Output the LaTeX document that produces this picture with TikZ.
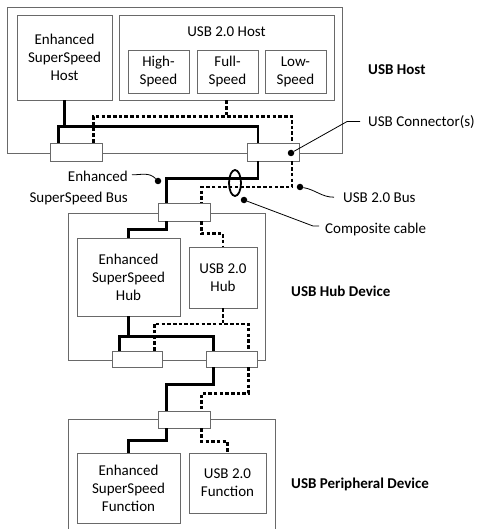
\documentclass[tikz,border=0pt]{standalone}
\usepackage{fontspec}
\setmainfont{Carlito}
\usepackage{tikz}
\usetikzlibrary{calc, positioning, shapes.geometric}
\definecolor{BoxGray}{RGB}{105, 105, 105}

\begin{document}
\begin{tikzpicture}[x=1pt, y=-1pt,
	blk/.style={draw=BoxGray, line width=0.9pt, fill=white, align=center, inner sep=0pt,
		font=\fontsize{15}{18}\selectfont},
	port/.style={draw=BoxGray, line width=0.9pt, fill=white, minimum width=52pt,
		minimum height=18pt, inner sep=0pt},
	ssbus/.style={line width=2.5pt},
	hsbus/.style={line width=2.1pt, dash pattern=on 3.5pt off 2.2pt},
	lbl/.style={font=\fontsize{15}{18}\selectfont, inner sep=0pt},
	dev/.style={font=\bfseries\fontsize{15}{18}\selectfont, inner sep=0pt, anchor=base west},
	lead/.style={line width=0.8pt},
	tip/.style={circle, fill=black, inner sep=0pt, minimum size=6.5pt}]
	\useasboundingbox (0,0) rectangle (478,529);
	\node[blk, minimum width=335pt, minimum height=146pt] (host) at (174.5,80) {};
	\node[blk, minimum width=197pt, minimum height=147pt] (hub) at (166.5,286.5) {};
	\node[blk, minimum width=207pt, minimum height=121pt] (per) at (171.5,479.5) {};
	\node[blk, minimum width=95pt, minimum height=85pt] (essh) at (64.5,57.5) {Enhanced\\SuperSpeed\\Host};
	\node[blk, minimum width=215pt, minimum height=85pt] (u2h) at (226.5,57.5) {};
	\node[lbl, anchor=base] (u2hl) at ($(u2h.north)+(0,22)$) {USB 2.0 Host};
	\node[blk, minimum width=61pt, minimum height=43pt] (hs) at (158.5,71.5) {High-\\Speed};
	\node[blk, minimum width=61pt, minimum height=43pt] (fs) at (227.5,71.5) {Full-\\Speed};
	\node[blk, minimum width=61pt, minimum height=43pt] (ls) at (295.5,71.5) {Low-\\Speed};
	\node[blk, minimum width=103pt, minimum height=78pt] (essb) at (128.5,277) {Enhanced\\SuperSpeed\\Hub};
	\node[blk, minimum width=68pt, minimum height=61pt] (u2b) at (223,277.5) {USB 2.0\\Hub};
	\node[blk, minimum width=103pt, minimum height=70pt] (essf) at (128.5,488) {Enhanced\\SuperSpeed\\Function};
	\node[blk, minimum width=77pt, minimum height=60pt] (u2f) at (227.5,483) {USB 2.0\\Function};
	\node[port] (hcL) at (76,152) {};
	\node[port] (hcR) at (273.5,152) {};
	\node[port] (hubU) at (184,212) {};
	\node[port, minimum width=50pt, minimum height=16pt] (hubL) at (137,359) {};
	\node[port, minimum width=51pt, minimum height=16pt] (hubR) at (231.5,359) {};
	\node[port, minimum height=17pt] (perC) at (184,419.5) {};
	\draw[ssbus] (essh.south) -- ++(0,27);
	\draw[ssbus] ($(hcL.north west)+(9,0)$) |- ($(hcR.north west)+(11,-16)$) -- ($(hcR.north west)+(11,0)$);
	\draw[hsbus] (u2h.south) -- ++(0,17);
	\draw[hsbus] ($(hcL.north east)+(-9,0)$) |- ($(hcR.north east)+(-8,-26)$) -- ($(hcR.north east)+(-8,0)$);
	\draw[ssbus] ($(hcR.south west)+(11,0)$) -- ++(0,17) -| ($(hubU.north west)+(9,0)$);
	\draw[hsbus] ($(hcR.south east)+(-8,0)$) -- ++(0,26) -| ($(hubU.north east)+(-9,0)$);
	\draw[ssbus] ($(hubU.south west)+(9,0)$) -- ++(0,8) -| (essb.north);
	\draw[hsbus] ($(hubU.south east)+(-9,0)$) -- ++(0,12) -| (u2b.north);
	\draw[ssbus] (essb.south) -- ++(0,21);
	\draw[ssbus] ($(hubL.north west)+(8,0)$) |- ($(hubR.north west)+(8,-14)$) -- ($(hubR.north west)+(8,0)$);
	\draw[hsbus] (u2b.south) -- ++(0,16);
	\draw[hsbus] ($(hubL.north east)+(-8,0)$) |- ($(hubR.north east)+(-9,-27)$) -- ($(hubR.north east)+(-9,0)$);
	\draw[ssbus] ($(hubR.south west)+(8,0)$) -- ++(0,17) -| ($(perC.north west)+(9,0)$);
	\draw[hsbus] ($(hubR.south east)+(-9,0)$) -- ++(0,26) -| ($(perC.north east)+(-9,0)$);
	\draw[ssbus] ($(perC.south west)+(9,0)$) -- ++(0,12) -| (essf.north);
	\draw[hsbus] ($(perC.south east)+(-9,0)$) -- ++(0,13) -| (u2f.north);
	\node[ellipse, draw, line width=1.8pt, minimum width=12pt, minimum height=26pt, inner sep=0pt] (cbl) at (235,183) {};
	\node[dev] (lhost) at (368,75) {USB Host};
	\node[dev] (lhub) at (291,296) {USB Hub Device};
	\node[dev] (lper) at (291,488) {USB Peripheral Device};
	\node[lbl, anchor=base west] (conn) at (368,127) {USB Connector(s)};
	\node[lbl, anchor=base east] (essbusA) at (128,182) {Enhanced};
	\node[lbl, anchor=base east] (essbusB) at (128,203) {SuperSpeed Bus};
	\node[lbl, anchor=base west] (bus20) at (343,203) {USB 2.0 Bus};
	\node[lbl, anchor=base west] (cmp) at (325,233) {Composite cable};
	\node[tip] (dconn) at (291,153) {};
	\node[tip] (dss) at (158,181) {};
	\node[tip] (d20) at (300,187) {};
	\node[tip] (dcmp) at (244,200) {};
	\draw[lead] (dconn) -- ($(conn.west)+(-21,-1)$) -- ($(conn.west)+(-8,-1)$);
	\draw[lead] ($(essbusA.east)+(4,-2)$) to[out=0, in=135] (dss);
	\draw[lead] (d20) to[out=-10, in=180] ($(bus20.west)+(-9,-1)$);
	\draw[lead] (dcmp) -- ($(cmp.west)+(-12,-3)$) -- ($(cmp.west)+(-6,-3)$);
\end{tikzpicture}
\end{document}
